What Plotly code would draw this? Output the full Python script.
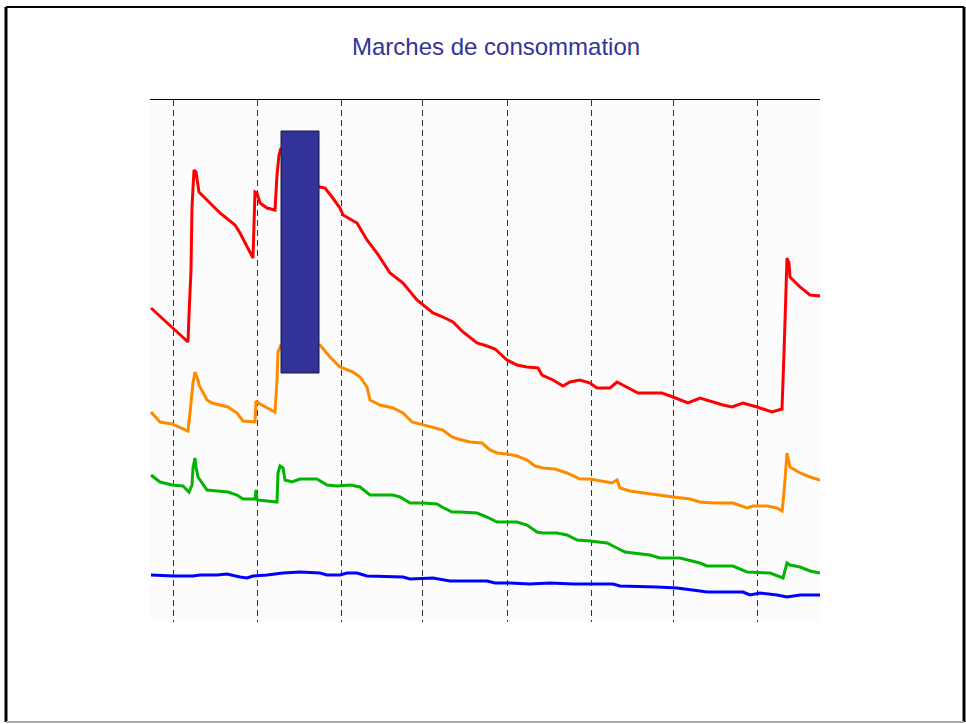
import plotly.graph_objects as go

# Time axis (arbitrary units, 0..670) and consumption (arbitrary units, 0..522)
red_x = [1,22,38,39,41,42,44,46,47,49,60,70,85,90,103,105,107,110,117,125,127,129,131,150,170,175,182,190,193,207,
         217,227,240,253,267,273,283,293,303,313,327,337,345,357,367,377,388,392,403,413,420,430,440,447,460,467,477,488,500,512,
         523,538,550,562,573,582,593,607,622,632,633,634,636,637,639,640,650,660,670]
red_y = [314,295,280,307,352,415,452,450,444,430,419,409,397,389,364,430,429,419,414,412,447,467,474,444,435,434,425,414,407,399,
         382,369,349,339,322,317,309,305,300,290,279,276,273,262,257,255,254,247,242,236,240,242,239,234,234,240,235,229,229,229,
         225,219,224,220,217,215,219,215,210,213,235,269,332,364,359,345,335,327,326]

orange_x = [1,10,22,38,40,42,43,45,48,49,57,62,78,87,93,105,106,110,117,125,127,128,131,150,170,180,190,203,210,217,
            220,230,243,253,262,273,283,293,302,308,320,332,340,347,357,367,377,385,393,405,417,430,440,450,462,467,470,480,493,510,
            523,540,550,563,583,597,603,617,627,632,633,635,637,640,650,660,670]
orange_y = [210,200,198,191,209,229,239,250,242,237,222,219,215,209,201,200,221,218,214,210,242,270,277,282,277,265,255,250,245,235,
            222,217,214,209,200,197,195,192,185,183,180,179,172,169,168,166,162,156,154,153,149,143,143,141,139,142,134,131,129,127,
            125,123,120,119,119,114,116,116,114,111,119,142,169,155,149,145,142]

green_x = [1,10,22,33,39,42,43,45,46,48,57,78,87,93,105,106,107,127,128,130,133,135,142,150,167,177,187,200,210,220,
           243,250,260,273,287,292,302,310,327,337,347,367,377,387,393,407,417,427,440,457,467,475,483,500,510,530,550,557,583,597,
           620,630,633,637,640,650,660,670]
green_y = [147,140,137,136,130,137,154,164,155,145,132,130,127,123,123,132,122,120,149,156,154,142,140,143,143,137,136,137,135,127,
           127,125,119,119,118,115,110,110,109,105,100,100,97,90,89,89,87,82,81,79,74,70,69,67,64,64,59,56,56,50,
           49,45,44,59,57,55,51,49]

blue_x = [1,23,43,50,67,77,90,97,103,117,133,150,170,177,190,197,207,217,253,260,283,300,337,345,360,380,400,423,463,470,
          507,527,550,557,593,600,610,627,637,650,670]
blue_y = [47,46,46,47,47,48,45,44,46,47,49,50,49,47,47,49,49,46,45,43,44,41,41,39,39,38,39,38,38,36,
          35,34,31,30,30,27,29,27,25,27,27]

day_marks = [23, 107, 191, 272, 357, 441, 523, 607]

# highlighted window (blue rectangle)
win_x0, win_x1 = 131, 169
win_y0, win_y1 = 249, 491

x_range = [0, 670]
y_range = [0, 522]

title_text = "Marches de consommation"

fig = go.Figure()
series = [
    (red_x, red_y, "#FF0000"),
    (orange_x, orange_y, "#FF8A00"),
    (green_x, green_y, "#00B400"),
    (blue_x, blue_y, "#0000FF"),
]
for xs, ys, col in series:
    fig.add_trace(go.Scatter(x=xs, y=ys, mode="lines", line=dict(color=col, width=3),
                             showlegend=False, hoverinfo="skip"))

fig.add_shape(type="rect", xref="x", yref="y", x0=win_x0, x1=win_x1, y0=win_y0, y1=win_y1,
              fillcolor="#333399", line=dict(color="#1a1a40", width=1), layer="above")

# slide border
L, R = (6 - 150) / 670, (964 - 150) / 670
T, B = (622 - 7) / 522, (622 - 722) / 522
fig.add_shape(type="line", xref="paper", yref="paper", x0=L, x1=R, y0=T, y1=T, line=dict(color="black", width=2))
fig.add_shape(type="line", xref="paper", yref="paper", x0=L, x1=L, y0=T, y1=B, line=dict(color="black", width=3))
fig.add_shape(type="line", xref="paper", yref="paper", x0=R, x1=R, y0=T, y1=B, line=dict(color="black", width=3))
fig.add_shape(type="line", xref="paper", yref="paper", x0=L, x1=R, y0=B, y1=B, line=dict(color="#aaaaaa", width=2))

fig.add_annotation(text=title_text, xref="paper", yref="paper", x=(496 - 150) / 670, y=(622 - 46) / 522,
                   xanchor="center", yanchor="middle", showarrow=False,
                   font=dict(family="Liberation Sans, Arial, sans-serif", size=24, color="#333399"))

fig.update_layout(
    width=966, height=724,
    margin=dict(l=150, r=146, t=100, b=102),
    paper_bgcolor="white",
    plot_bgcolor="#FCFCFC",
    showlegend=False,
    xaxis=dict(range=x_range, side="top", showline=True, linecolor="black", linewidth=1,
               tickvals=day_marks, showticklabels=False, ticks="",
               showgrid=True, gridcolor="#333333", gridwidth=1, griddash="6px,4px",
               zeroline=False, fixedrange=True),
    yaxis=dict(range=y_range, showgrid=False, showticklabels=False, ticks="",
               zeroline=False, showline=False, fixedrange=True),
)

fig.write_html("out.html",
               config={"displayModeBar": False},
               post_script="document.body.style.margin='0';document.body.style.padding='0';"
                           "document.body.style.overflow='hidden';")
